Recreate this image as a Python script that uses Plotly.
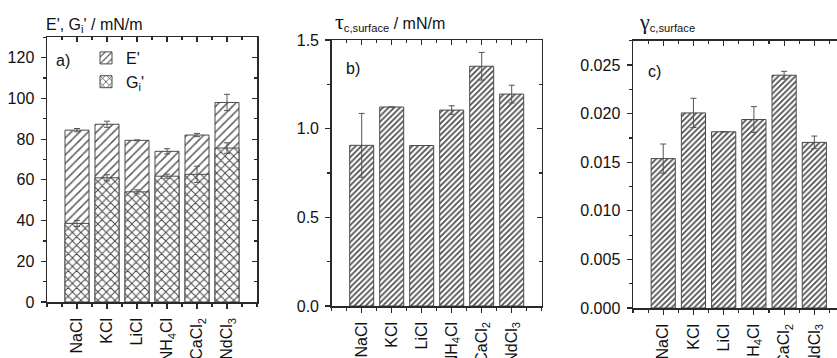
import plotly.graph_objects as go

# ---------------- data ----------------
salts = ["NaCl", "KCl", "LiCl", "NH<sub>4</sub>Cl", "CaCl<sub>2</sub>", "NdCl<sub>3</sub>"]
positions = [1, 2, 3, 4, 5, 6]

e_mod = [84.4, 87.3, 79.4, 74.0, 82.0, 98.0]
e_err = [0.8, 1.5, 0.2, 1.3, 0.8, 4.0]
g_mod = [38.6, 61.0, 54.1, 61.8, 62.7, 75.6]
g_err = [1.5, 1.5, 1.0, 1.0, 4.0, 2.6]

tau = [0.906, 1.122, 0.905, 1.105, 1.352, 1.195]
tau_err = [0.18, 0.0, 0.0, 0.024, 0.078, 0.05]

gamma = [0.01537, 0.02007, 0.01813, 0.01939, 0.02395, 0.01704]
gamma_err = [0.0015, 0.0015, 0.0, 0.00133, 0.0004, 0.00065]

# ---------------- styling ----------------
W, H = 837, 358
FONT = "Liberation Sans, Arial, sans-serif"
LINE = "#2a2a2a"
OUT = "#4a4a4a"
EB = dict(type="data", visible=True, color="#555555", thickness=1, width=3)


def px_x(p):
    return p / W


def px_y(p):
    return 1 - p / H


fig = go.Figure()

# panel a
fig.add_trace(go.Bar(
    x=positions, y=e_mod, name="E'", width=0.8,
    error_y=dict(array=e_err, **EB),
    marker=dict(color="white", line=dict(color=OUT, width=1),
                pattern=dict(shape="/", fgcolor="#5a5a5a", bgcolor="white", size=6, solidity=0.25)),
    xaxis="x", yaxis="y"))
fig.add_trace(go.Bar(
    x=positions, y=g_mod, name="G<sub>i</sub>'", width=0.8,
    error_y=dict(array=g_err, **EB),
    marker=dict(color="white", line=dict(color=OUT, width=1),
                pattern=dict(shape="x", fgcolor="#444444", bgcolor="white", size=6, solidity=0.3)),
    xaxis="x", yaxis="y"))

# panel b
fig.add_trace(go.Bar(
    x=positions, y=tau, width=0.8, showlegend=False,
    error_y=dict(array=tau_err, **EB),
    marker=dict(color="white", line=dict(color=OUT, width=1),
                pattern=dict(shape="/", fgcolor="#4a4a4a", bgcolor="white", size=4, solidity=0.42)),
    xaxis="x2", yaxis="y2"))

# panel c
fig.add_trace(go.Bar(
    x=positions, y=gamma, width=0.8, showlegend=False,
    error_y=dict(array=gamma_err, **EB),
    marker=dict(color="white", line=dict(color=OUT, width=1),
                pattern=dict(shape="/", fgcolor="#4a4a4a", bgcolor="white", size=4, solidity=0.42)),
    xaxis="x3", yaxis="y3"))

# empty traces so overlay (mirror) axes render
for xa, ya in [("x4", "y4"), ("x5", "y5"), ("x6", "y6")]:
    fig.add_trace(go.Scatter(x=[None], y=[None], xaxis=xa, yaxis=ya, showlegend=False, hoverinfo="skip"))

tickfont = dict(family=FONT, size=16, color="#111111")


def xbottom(domain, rng):
    return dict(domain=domain, range=rng, tickmode="array", tickvals=positions, ticktext=salts,
                tickangle=-90, ticks="outside", ticklen=5, tickwidth=1.2, tickcolor=LINE,
                minor=dict(tick0=0, dtick=0.5, ticks="outside", ticklen=3, tickwidth=1.2, tickcolor=LINE),
                showline=True, linecolor=LINE, linewidth=1.5, showgrid=False, zeroline=False,
                tickfont=tickfont, fixedrange=True, automargin=False, ticklabelstandoff=3)


def xtop(over, anchor, rng):
    return dict(overlaying=over, anchor=anchor, side="top", range=rng, tickmode="array",
                tickvals=positions, showticklabels=False, ticks="inside", ticklen=5, tickwidth=1.2,
                tickcolor=LINE,
                minor=dict(tick0=0, dtick=0.5, ticks="inside", ticklen=3, tickwidth=1.2, tickcolor=LINE),
                showline=True, linecolor=LINE, linewidth=1.5, showgrid=False, zeroline=False,
                automargin=False)


def yleft(domain, rng, dtick, mdtick, fmt):
    return dict(domain=domain, range=rng, tick0=0, dtick=dtick, tickformat=fmt, ticks="outside",
                ticklen=5, tickwidth=1.2, tickcolor=LINE,
                minor=dict(tick0=0, dtick=mdtick, ticks="outside", ticklen=3, tickwidth=1.2, tickcolor=LINE),
                showline=True, linecolor=LINE, linewidth=1.5, showgrid=False, zeroline=False,
                tickfont=tickfont, fixedrange=True, automargin=False, ticklabelstandoff=3)


def yright(over, anchor, rng, dtick, mdtick, show=True):
    return dict(overlaying=over, anchor=anchor, side="right", range=rng, tick0=0, dtick=dtick,
                showticklabels=False, ticks="inside" if show else "", ticklen=5, tickwidth=1.2,
                tickcolor=LINE, visible=show,
                minor=dict(tick0=0, dtick=mdtick, ticks="inside" if show else "", ticklen=3,
                           tickwidth=1.2, tickcolor=LINE),
                showline=show, linecolor=LINE, linewidth=1.5, showgrid=False, zeroline=False,
                automargin=False)


da_x = [px_x(47), px_x(257)]
da_y = [px_y(302), px_y(37.3)]
db_x = [px_x(331.7), px_x(541.7)]
db_y = [px_y(306), px_y(40)]
dc_x = [px_x(633), 1.0]
dc_y = [px_y(308), px_y(40.7)]

ra = [0, 130]
rb = [0, 1.5]
rc = [0, 0.0275]
rxa = [0, 7]
rxc = [0, 6.75]

fig.update_layout(
    template="none",
    width=W, height=H, autosize=False,
    margin=dict(l=0, r=0, t=0, b=0, pad=0),
    paper_bgcolor="white", plot_bgcolor="white",
    barmode="overlay",
    font=dict(family=FONT, size=16, color="#111111"),
    xaxis=xbottom(da_x, rxa),
    yaxis=yleft(da_y, ra, 20, 10, "d"),
    xaxis2=xbottom(db_x, rxa) | dict(anchor="y2"),
    yaxis2=yleft(db_y, rb, 0.5, 0.25, ".1f") | dict(anchor="x2"),
    xaxis3=xbottom(dc_x, rxc) | dict(anchor="y3"),
    yaxis3=yleft(dc_y, rc, 0.005, 0.0025, ".3f") | dict(anchor="x3"),
    xaxis4=xtop("x", "y4", rxa),
    yaxis4=yright("y", "x4", ra, 20, 10),
    xaxis5=xtop("x2", "y5", rxa),
    yaxis5=yright("y2", "x5", rb, 0.5, 0.25),
    xaxis6=xtop("x3", "y6", rxc),
    yaxis6=yright("y3", "x6", rc, 0.005, 0.0025, show=False),
    legend=dict(x=px_x(86), y=px_y(41), xanchor="left", yanchor="top",
                bgcolor="rgba(0,0,0,0)", borderwidth=0,
                font=dict(family=FONT, size=16, color="#111111"),
                tracegroupgap=0, itemwidth=30),
    showlegend=True,
)

ann_font = dict(family=FONT, size=16, color="#111111")
annotations = [
    dict(text="E', G<sub>i</sub>' / mN/m", x=px_x(44), y=px_y(26), xanchor="left", yanchor="middle"),
    dict(text="<span style=\"font-family:'Liberation Serif';font-size:22px\">τ</span><sub>c,surface</sub> / mN/m",
         x=px_x(333), y=px_y(22), xanchor="left", yanchor="middle"),
    dict(text="<span style=\"font-family:'Liberation Serif';font-size:22px\">γ</span><sub>c,surface</sub>",
         x=px_x(637), y=px_y(22), xanchor="left", yanchor="middle"),
    dict(text="a)", x=px_x(54), y=px_y(61), xanchor="left", yanchor="middle"),
    dict(text="b)", x=px_x(344), y=px_y(68), xanchor="left", yanchor="middle"),
    dict(text="c)", x=px_x(646), y=px_y(71), xanchor="left", yanchor="middle"),
]
for a in annotations:
    a.update(xref="paper", yref="paper", showarrow=False, font=ann_font)
fig.update_layout(annotations=annotations)

fig.write_html("out.html",
               config={"displayModeBar": False, "staticPlot": True},
               post_script="document.body.style.margin='0';document.body.style.overflow='hidden';")
